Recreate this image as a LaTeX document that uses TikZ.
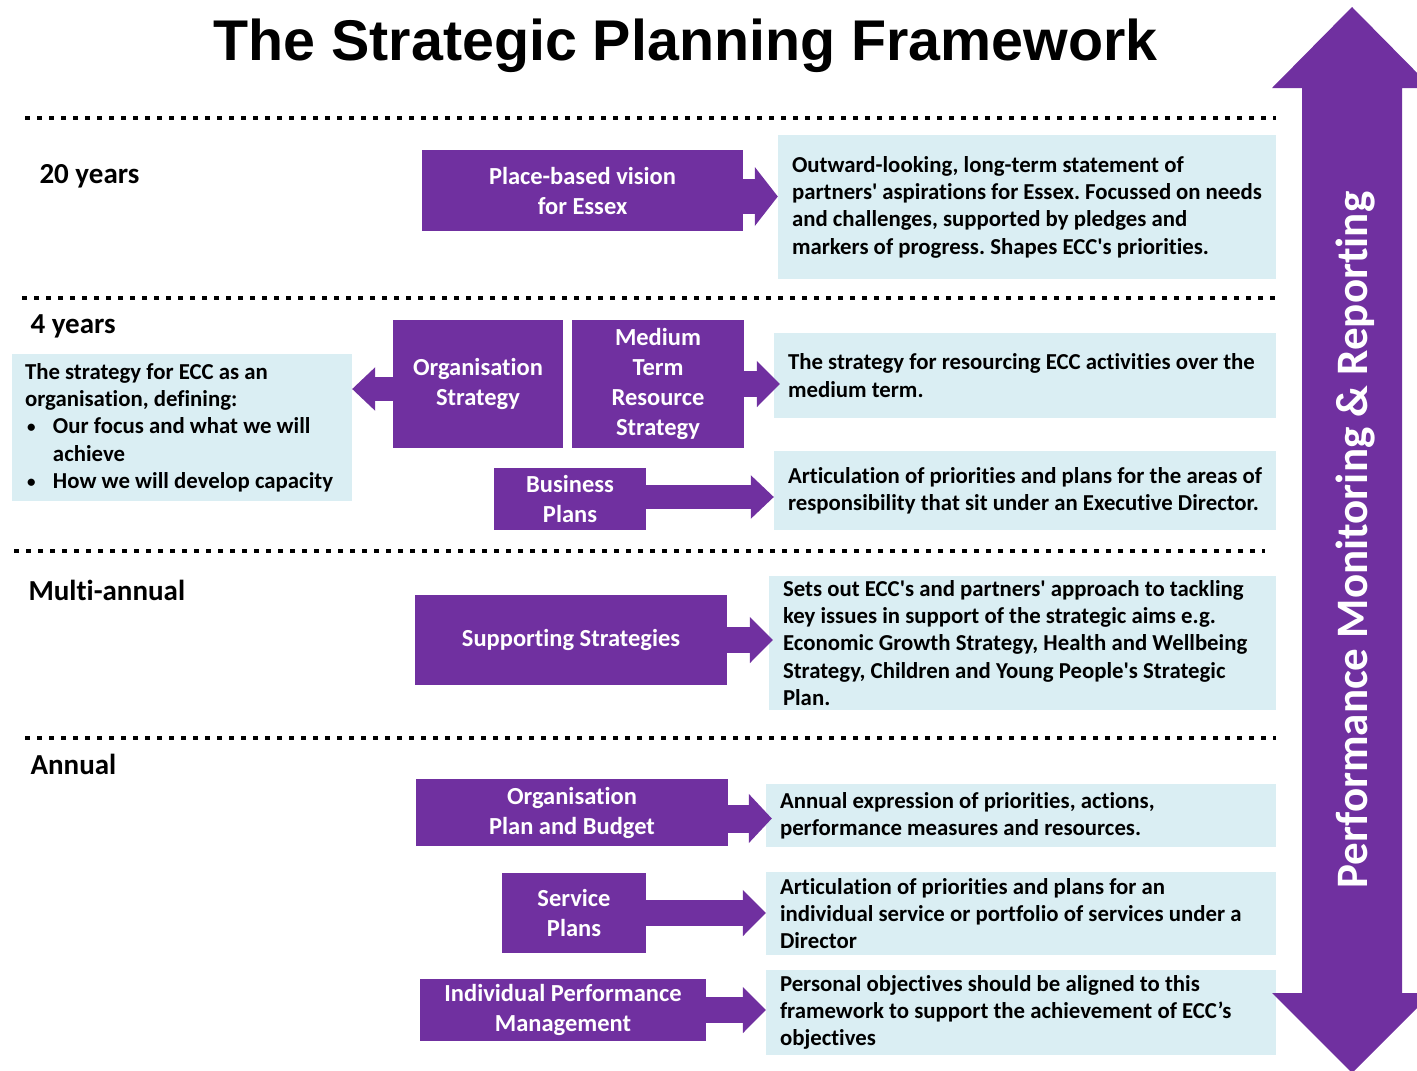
\documentclass[tikz,border=0pt]{standalone}
\usepackage{fontspec}
\setmainfont{Carlito}[Ligatures=NoCommon]
\newfontfamily\titlefont{Liberation Sans}
\usetikzlibrary{arrows.meta}
\definecolor{ecc}{HTML}{7030A0}
\definecolor{pale}{HTML}{DAEEF3}
\tikzset{
  pbox/.style={fill=ecc, text=white, inner sep=0pt, align=flush center,
    font=\bfseries\fontsize{24.5}{30}\selectfont},
  tbox/.style={fill=pale, inner xsep=14pt, inner ysep=0pt, align=flush left,
    font=\bfseries\fontsize{22.8}{27.3}\selectfont\frenchspacing},
  lbl/.style={anchor=base west, font=\bfseries\fontsize{29}{34}\selectfont},
  band/.style={line width=4.5pt, dash pattern=on 4.5pt off 7.5pt},
  barrow/.style={ecc, line width=#1,
    -{Triangle[width=10pt 1.4, length=23pt, line width=0pt]}},
  barrow/.default=26pt
}
\newcommand\bul{\makebox[28pt][l]{\hspace{2pt}\raisebox{1pt}{\fontsize{17}{17}\selectfont\textbullet}}}
\newcommand\sq{\textquotesingle}
\begin{document}
\begin{tikzpicture}[x=1pt,y=-1pt]
  \useasboundingbox (0,0) rectangle (1417,1071);
  \clip (0,0) rectangle (1417,1071);

  \node[anchor=base, font=\titlefont\bfseries\fontsize{57.4}{60}\selectfont] (title) at (685.5,60)
    {The Strategic Planning Framework};

  \draw[band] (25,118) -- (1276,118);
  \draw[band] (22,298) -- (1276,298);
  \draw[band] (14,551) -- (1265,551);
  \draw[band] (25,738) -- (1276,738);

  \node[lbl] (l20) at (36,183) {20 years};
  \node[lbl] (l4) at (27,333) {4 years};
  \node[lbl] (lmulti) at (25,600) {Multi-annual};
  \node[lbl] (lannual) at (27,774) {Annual};

  % purple boxes
  \node[pbox, minimum width=321pt, minimum height=81pt] (vision) at (582.5,190.5) {Place-based vision\\for Essex};
  \node[pbox, minimum width=170pt, minimum height=128pt] (orgstrat) at (478,384) {Organisation\\Strategy};
  \node[pbox, minimum width=172pt, minimum height=128pt] (mtrs) at (658,384) {Medium\\Term\\Resource\\Strategy};
  \node[pbox, minimum width=152pt, minimum height=62pt] (busplan) at (570,499) {Business\\Plans};
  \node[pbox, minimum width=312pt, minimum height=90pt] (support) at (571,640) {Supporting Strategies};
  \node[pbox, minimum width=312pt, minimum height=67pt] (orgplan) at (572,812.5) {Organisation\\Plan and Budget};
  \node[pbox, minimum width=144pt, minimum height=80pt] (service) at (574,913) {Service\\Plans};
  \node[pbox, minimum width=286pt, minimum height=62pt] (ipm) at (563,1010) {Individual Performance\\Management};

  % descriptions
  \node[tbox, text width=470pt, minimum height=144pt] (visiontxt) at (1027,207)
    {Outward-looking, long-term statement of\\partners\sq\ aspirations for Essex. Focussed on needs\\and challenges, supported by pledges and\\markers of progress. Shapes ECC\sq s priorities.};
  \node[tbox, inner xsep=13pt, text width=314pt, minimum height=147pt] (orgtxt) at (182,427.5)
    {The strategy for ECC as an\\organisation, defining:\\\bul Our focus and what we will\\\hspace*{28pt}achieve\\\bul How we will develop capacity};
  \node[tbox, text width=474pt, minimum height=85pt] (mtrstxt) at (1025,375.5)
    {The strategy for resourcing ECC activities over the\\medium term.};
  \node[tbox, text width=474pt, minimum height=79pt] (bustxt) at (1025,490.5)
    {Articulation of priorities and plans for the areas of\\responsibility that sit under an Executive Director.};
  \node[tbox, text width=479pt, minimum height=134pt] (supporttxt) at (1022.5,643)
    {Sets out ECC\sq s and partners\sq\ approach to tackling\\key issues in support of the strategic aims e.g.\\Economic Growth Strategy, Health and Wellbeing\\Strategy, Children and Young People\sq s Strategic\\Plan.};
  \node[tbox, text width=482pt, minimum height=63pt] (orgplantxt) at (1021,815.5)
    {Annual expression of priorities, actions,\\performance measures and resources.};
  \node[tbox, text width=482pt, minimum height=83pt] (servicetxt) at (1021,913.5)
    {Articulation of priorities and plans for an\\individual service or portfolio of services under a\\Director};
  \node[tbox, text width=482pt, minimum height=85pt] (ipmtxt) at (1021,1012.5)
    {Personal objectives should be aligned to this\\framework to support the achievement of ECC’s\\objectives};

  % block arrows
  \draw[barrow=35pt] ([yshift=-6pt]vision.east) -- ([yshift=-6pt]vision.east -| visiontxt.west);
  \draw[barrow=24pt] ([yshift=-5pt]orgstrat.west) -- ([yshift=-5pt]orgstrat.west -| orgtxt.east);
  \draw[barrow] (mtrs.east) -- ([xshift=6pt]mtrs.east -| mtrstxt.west);
  \draw[barrow=24pt] ([yshift=2pt]busplan.east) -- ([yshift=2pt]busplan.east -| bustxt.west);
  \draw[barrow] (support.east) -- ([xshift=4pt]support.east -| supporttxt.west);
  \draw[barrow=28pt] ([yshift=-6pt]orgplan.east) -- ([xshift=6pt,yshift=-6pt]orgplan.east -| orgplantxt.west);
  \draw[barrow] (service.east) -- (service.east -| servicetxt.west);
  \draw[barrow] (ipm.east) -- (ipm.east -| ipmtxt.west);

  % performance arrow
  \fill[ecc] (1352,7) -- (1432,88) -- (1402,88) -- (1402,993) -- (1432,993) -- (1352,1073)
    -- (1272,993) -- (1302,993) -- (1302,88) -- (1272,88) -- cycle;
  \node[rotate=90, text=white, font=\bfseries\fontsize{45}{50}\selectfont] (perf) at (1356,540)
    {Performance Monitoring \& Reporting};
\end{tikzpicture}
\end{document}
